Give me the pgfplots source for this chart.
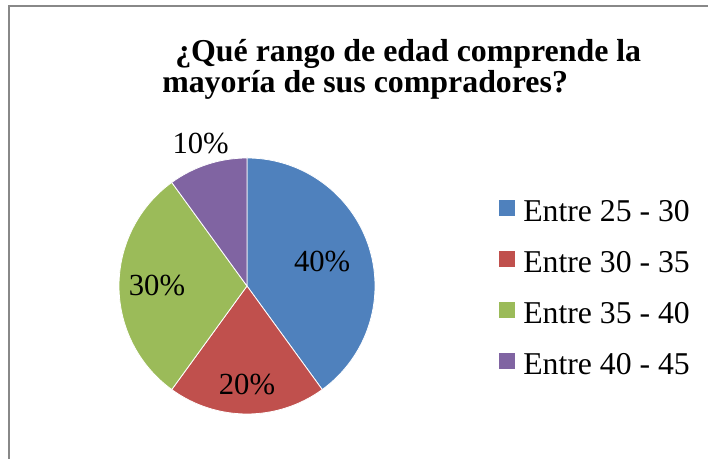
\documentclass[border=0pt]{standalone}
\usepackage{fontspec}
\setmainfont{Liberation Serif}
\usepackage{pgfplots}
\usepackage{pgfplotstable}
\pgfplotsset{compat=1.18}

\definecolor{azul}{HTML}{4F81BD}
\definecolor{rojo}{HTML}{C0504D}
\definecolor{verde}{HTML}{9BBB59}
\definecolor{morado}{HTML}{8064A2}
\definecolor{marco}{HTML}{888888}

% porcentaje de compradores por rango de edad
\pgfplotstableread[col sep=comma]{
rango,valor,color,rlab
Entre 25 - 30,40,azul,79
Entre 30 - 35,20,rojo,99
Entre 35 - 40,30,verde,90
Entre 40 - 45,10,morado,150
}\datos

\begin{document}
\begin{tikzpicture}
\useasboundingbox (0,0) rectangle (531pt,344.25pt);
\begin{axis}[
  at={(0,0)}, anchor=south west,
  x=0.75pt, y=0.75pt,
  xmin=0, xmax=708, ymin=0, ymax=459,
  hide axis, clip=false,
  legend style={draw=none, fill=none, at={(axis cs:499,259)}, anchor=north west,
    font=\fontsize{23.8}{28}\selectfont, row sep=22pt, inner sep=0pt,
    cells={anchor=west}, nodes={inner sep=0pt, text height=16pt, text depth=0pt},
    /tikz/every odd column/.append style={column sep=6pt}},
  legend image code/.code={\fill[draw=none,#1] (0pt,-3.75pt) rectangle (12pt,8.25pt);},
]
\draw[marco, line width=1.5pt] (axis cs:8.5,-30) -- (axis cs:8.5,453) -- (axis cs:740,453);

\node[anchor=base west, inner sep=0pt, font=\fontsize{23.9}{28}\selectfont\bfseries]
  at (axis cs:175,397) {¿Qué rango de edad comprende la};
\node[anchor=base west, inner sep=0pt, font=\fontsize{23.9}{28}\selectfont\bfseries]
  at (axis cs:162,366) {mayoría de sus compradores?};

\pgfplotsextra{
  \def\ini{90}
  \pgfplotsforeachungrouped \i in {0,...,3}{
    \pgfplotstablegetelem{\i}{valor}\of\datos \let\val\pgfplotsretval
    \pgfplotstablegetelem{\i}{color}\of\datos \let\col\pgfplotsretval
    \pgfplotstablegetelem{\i}{rlab}\of\datos \let\rl\pgfplotsretval
    \pgfmathsetmacro\fin{\ini-3.6*\val}
    \pgfmathsetmacro\med{(\ini+\fin)/2}
    \fill[fill=\col, draw=white, line width=0.6pt] (axis cs:247,173) -- ++(\ini:96pt)
      arc[start angle=\ini, end angle=\fin, radius=96pt] -- cycle;
    \node[font=\fontsize{23}{27}\selectfont, inner sep=0pt]
      at (axis cs:{247+\rl*cos(\med)},{173+\rl*sin(\med)}) {\val\%};
    \let\ini\fin
  }
}

\addlegendimage{fill=azul}\addlegendentry{Entre 25 - 30}
\addlegendimage{fill=rojo}\addlegendentry{Entre 30 - 35}
\addlegendimage{fill=verde}\addlegendentry{Entre 35 - 40}
\addlegendimage{fill=morado}\addlegendentry{Entre 40 - 45}
\end{axis}
\end{tikzpicture}
\end{document}
